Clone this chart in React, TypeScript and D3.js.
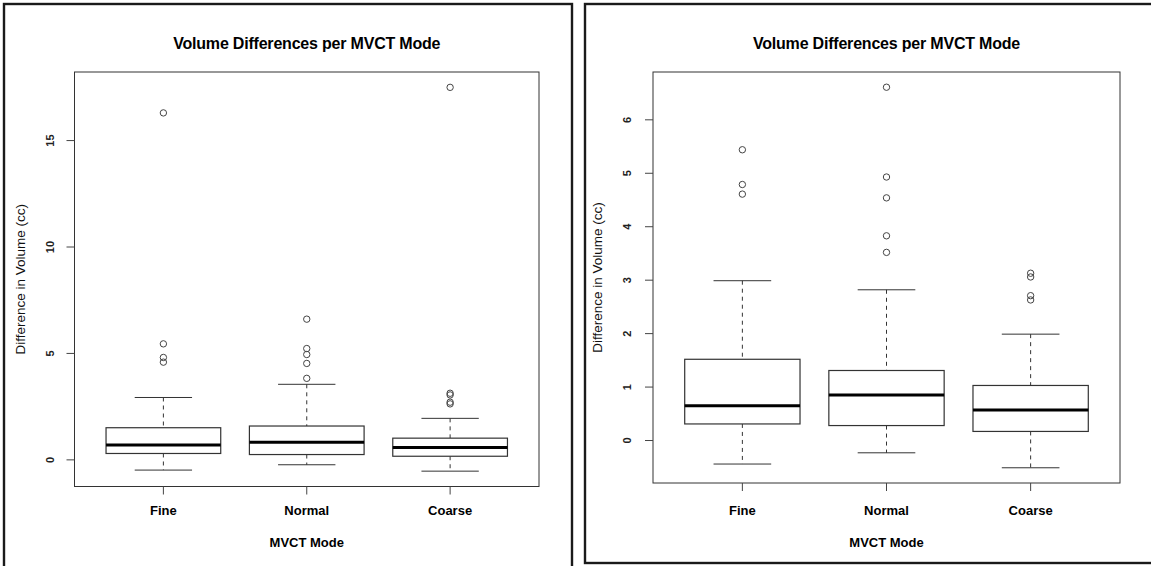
import React, { useEffect } from "react";
import * as d3 from "d3";

const W = 1151;
const H = 566;

const modes = ["Fine", "Normal", "Coarse"];

// left panel: all measurements
const allLower = [-0.48, -0.23, -0.53];
const allQ1 = [0.3, 0.25, 0.17];
const allMedian = [0.7, 0.83, 0.58];
const allQ3 = [1.51, 1.59, 1.02];
const allUpper = [2.93, 3.55, 1.95];
const allOutliers = [
  [16.3, 5.45, 4.81, 4.59],
  [6.61, 5.23, 4.95, 4.53, 3.83],
  [17.5, 3.13, 3.05, 2.71, 2.63],
];
const allTicks = [0, 5, 10, 15];

// right panel: extreme values removed
const trimLower = [-0.44, -0.23, -0.51];
const trimQ1 = [0.31, 0.28, 0.17];
const trimMedian = [0.65, 0.85, 0.57];
const trimQ3 = [1.52, 1.31, 1.03];
const trimUpper = [2.99, 2.82, 1.99];
const trimOutliers = [
  [5.44, 4.79, 4.61],
  [6.61, 4.93, 4.54, 3.83, 3.52],
  [3.13, 3.06, 2.71, 2.63],
];
const trimTicks = [0, 1, 2, 3, 4, 5, 6];

const title = "Volume Differences per MVCT Mode";
const yTitle = "Difference in Volume (cc)";
const xTitle = "MVCT Mode";

const font = "'Liberation Sans', Arial, sans-serif";
const ink = "#1a1a1a";

type Rect = { left: number; top: number; right: number; bottom: number };

type PanelProps = {
  frame: Rect;
  plot: Rect;
  lower: number[];
  q1: number[];
  median: number[];
  q3: number[];
  upper: number[];
  outliers: number[][];
  ticks: number[];
  yLabelX: number;
  yTitleX: number;
};

function BoxPanel(props: PanelProps) {
  const { frame, plot, lower, q1, median, q3, upper, outliers, ticks } = props;

  const x = d3
    .scalePoint<string>()
    .domain(modes)
    .range([plot.left, plot.right])
    .padding(0.62);
  const step = x.step();

  // R extends the data range by 4% on each side
  const lo = d3.min([...lower, ...outliers.flat()]) as number;
  const hi = d3.max([...upper, ...outliers.flat()]) as number;
  const pad = (hi - lo) * 0.04;
  const y = d3
    .scaleLinear()
    .domain([lo - pad, hi + pad])
    .range([plot.bottom, plot.top]);

  const boxW = step * 0.8;
  const capW = boxW * 0.5;
  const cx = (plot.left + plot.right) / 2;
  const cy = (plot.top + plot.bottom) / 2;

  return (
    <g>
      <rect
        x={frame.left}
        y={frame.top}
        width={frame.right - frame.left}
        height={frame.bottom - frame.top}
        fill="white"
        stroke={ink}
        strokeWidth={2.4}
      />
      <text
        x={cx}
        y={49}
        textAnchor="middle"
        fontFamily={font}
        fontWeight="bold"
        fontSize={16}
        letterSpacing={-0.2}
        fill="#000"
      >
        {title}
      </text>
      <rect
        x={plot.left}
        y={plot.top}
        width={plot.right - plot.left}
        height={plot.bottom - plot.top}
        fill="none"
        stroke="#333"
        strokeWidth={1}
      />
      {ticks.map((t) => (
        <g key={t}>
          <line
            x1={plot.left - 8}
            x2={plot.left}
            y1={y(t)}
            y2={y(t)}
            stroke="#444"
          />
          <text
            transform={`translate(${props.yLabelX},${y(t)}) rotate(-90)`}
            textAnchor="middle"
            dominantBaseline="central"
            fontFamily={font}
            fontWeight="bold"
            fontSize={11}
            fill="#222"
          >
            {t}
          </text>
        </g>
      ))}
      <text
        transform={`translate(${props.yTitleX},${cy}) rotate(-90)`}
        textAnchor="middle"
        dominantBaseline="central"
        fontFamily={font}
        fontSize={13.5}
        fill="#111"
      >
        {yTitle}
      </text>
      {modes.map((m, i) => {
        const px = x(m) as number;
        return (
          <g key={m}>
            <line
              x1={px}
              x2={px}
              y1={plot.bottom}
              y2={plot.bottom + 8}
              stroke="#444"
            />
            <text
              x={px}
              y={510}
              textAnchor="middle"
              dominantBaseline="central"
              fontFamily={font}
              fontWeight="bold"
              fontSize={13}
              fill="#000"
            >
              {m}
            </text>
            <line
              x1={px}
              x2={px}
              y1={y(upper[i])}
              y2={y(q3[i])}
              stroke="#333"
              strokeDasharray="4,4"
            />
            <line
              x1={px}
              x2={px}
              y1={y(q1[i])}
              y2={y(lower[i])}
              stroke="#333"
              strokeDasharray="4,4"
            />
            <line
              x1={px - capW / 2}
              x2={px + capW / 2}
              y1={y(upper[i])}
              y2={y(upper[i])}
              stroke="#333"
            />
            <line
              x1={px - capW / 2}
              x2={px + capW / 2}
              y1={y(lower[i])}
              y2={y(lower[i])}
              stroke="#333"
            />
            <rect
              x={px - boxW / 2}
              y={y(q3[i])}
              width={boxW}
              height={y(q1[i]) - y(q3[i])}
              fill="white"
              stroke="#333"
              strokeWidth={1.2}
            />
            <line
              x1={px - boxW / 2}
              x2={px + boxW / 2}
              y1={y(median[i])}
              y2={y(median[i])}
              stroke="#000"
              strokeWidth={3}
            />
            {outliers[i].map((v, j) => (
              <circle
                key={j}
                cx={px}
                cy={y(v)}
                r={3.2}
                fill="none"
                stroke="#444"
                strokeWidth={1}
              />
            ))}
          </g>
        );
      })}
      <text
        x={cx}
        y={542}
        textAnchor="middle"
        dominantBaseline="central"
        fontFamily={font}
        fontWeight="bold"
        fontSize={13}
        fill="#000"
      >
        {xTitle}
      </text>
    </g>
  );
}

export default function App() {
  useEffect(() => {
    document.body.style.margin = "0";
  }, []);

  return (
    <svg width={W} height={H} style={{ display: "block", background: "white" }}>
      <BoxPanel
        frame={{ left: 4, top: 4, right: 572, bottom: 600 }}
        plot={{ left: 74.5, top: 72, right: 539, bottom: 486.5 }}
        lower={allLower}
        q1={allQ1}
        median={allMedian}
        q3={allQ3}
        upper={allUpper}
        outliers={allOutliers}
        ticks={allTicks}
        yLabelX={50}
        yTitleX={20}
      />
      <BoxPanel
        frame={{ left: 585, top: 4, right: 1170, bottom: 563 }}
        plot={{ left: 653, top: 72, right: 1120, bottom: 483 }}
        lower={trimLower}
        q1={trimQ1}
        median={trimMedian}
        q3={trimQ3}
        upper={trimUpper}
        outliers={trimOutliers}
        ticks={trimTicks}
        yLabelX={627}
        yTitleX={597}
      />
    </svg>
  );
}
